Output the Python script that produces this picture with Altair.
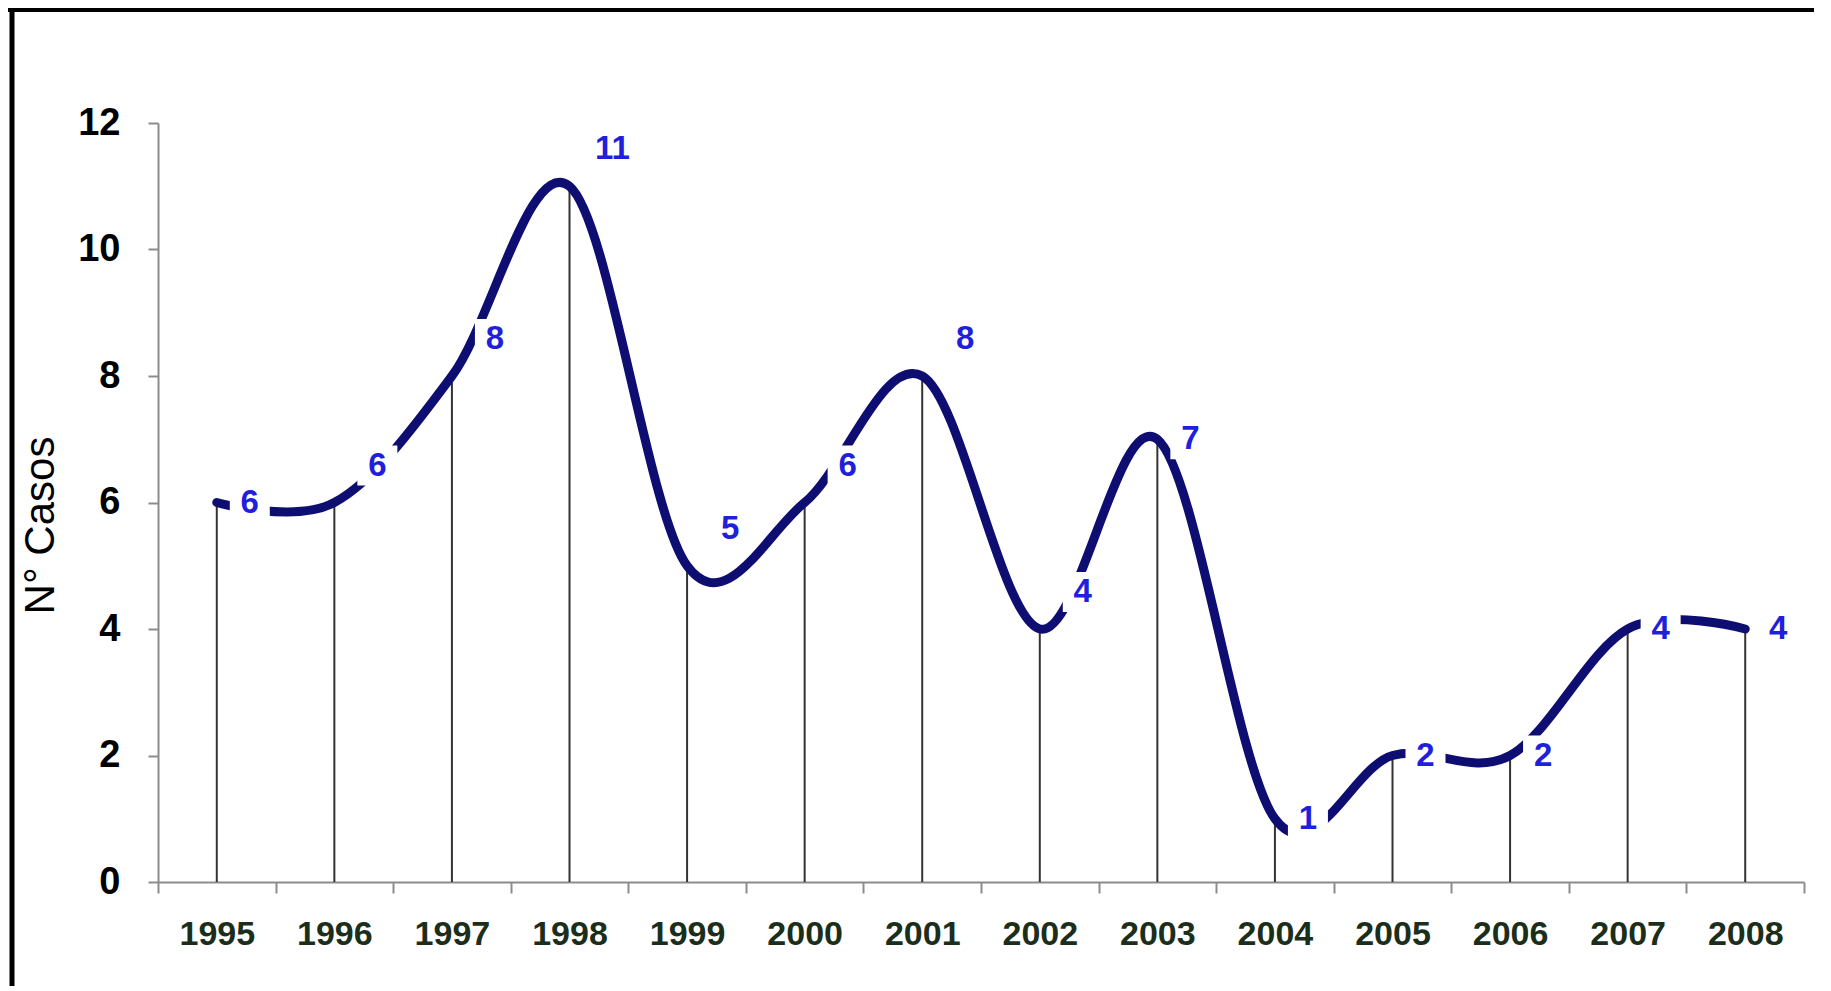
import altair as alt
import pandas as pd

# ---- data ----
years = [1995, 1996, 1997, 1998, 1999, 2000, 2001, 2002, 2003, 2004, 2005, 2006, 2007, 2008]
cases = [6, 6, 8, 11, 5, 6, 8, 4, 7, 1, 2, 2, 4, 4]
y_ticks = [0, 2, 4, 6, 8, 10, 12]
y_title = "N° Casos"

df = pd.DataFrame({"year": years, "cases": cases})
frame_df = pd.DataFrame({"k": [0]})

W, H = 1646, 759
FONT = "Liberation Sans"
AXIS_GRAY = "#8c8c8c"
LINE_COLOR = "#0e0e72"
LABEL_COLOR = "#1f1fdc"

xscale = alt.Scale(type="band", paddingInner=0, paddingOuter=0)
yscale = alt.Scale(domain=[0, 12], nice=False, zero=True)

x_axis = alt.Axis(
    title=None, tickBand="extent", labelAngle=0, labelFont=FONT, labelFontSize=34,
    labelFontWeight="bold", labelColor="#1b2e1b", labelPadding=24,
    tickColor=AXIS_GRAY, tickSize=11, tickWidth=2,
    domainColor=AXIS_GRAY, domainWidth=2, grid=False,
)
y_axis = alt.Axis(
    values=y_ticks, title=y_title, titleFont=FONT, titleFontSize=42,
    titleFontWeight="normal", titleColor="black", titleAngle=270,
    titleX=-105, titleY=402, titleAlign="center", titleBaseline="alphabetic",
    labelFont=FONT, labelFontSize=38, labelFontWeight="bold", labelColor="black",
    labelPadding=28, tickSize=10, tickColor=AXIS_GRAY, tickWidth=2,
    domainColor=AXIS_GRAY, domainWidth=2, grid=False,
)

X = alt.X("year:O", bandPosition=0.5, scale=xscale, axis=x_axis)
Y = alt.Y("cases:Q", scale=yscale, axis=y_axis)

base = alt.Chart(df)

drops = base.mark_rule(color="#333333", strokeWidth=2).encode(x=X, y=Y, y2=alt.datum(0))

curve = base.mark_line(
    color=LINE_COLOR, strokeWidth=9, interpolate="cardinal", strokeCap="round"
).encode(x=X, y=Y)

raised = "datum.year >= 1996 && datum.year <= 2002"
level = "datum.year < 1996 || datum.year > 2002"

bg_raised = base.transform_filter(raised).mark_square(
    size=1600, fill="white", opacity=1, strokeWidth=0, xOffset=43, yOffset=-37
).encode(x=X, y=Y)
bg_level = base.transform_filter(level).mark_square(
    size=1600, fill="white", opacity=1, strokeWidth=0, xOffset=33, yOffset=0
).encode(x=X, y=Y)

txt_raised = base.transform_filter(raised).mark_text(
    font=FONT, fontSize=33, fontWeight="bold", color=LABEL_COLOR,
    align="center", baseline="middle", dx=43, dy=-37,
).encode(x=X, y=Y, text="cases:Q")
txt_level = base.transform_filter(level).mark_text(
    font=FONT, fontSize=33, fontWeight="bold", color=LABEL_COLOR,
    align="center", baseline="middle", dx=33, dy=0,
).encode(x=X, y=Y, text="cases:Q")

frame_left = alt.Chart(frame_df).mark_rule(color="black", strokeWidth=5).encode(
    x=alt.value(-146), y=alt.value(-115), y2=alt.value(H + 104)
)
frame_top = alt.Chart(frame_df).mark_rule(color="black", strokeWidth=4).encode(
    x=alt.value(-150), x2=alt.value(W + 10), y=alt.value(-113)
)

chart = alt.layer(
    drops, curve, bg_raised, bg_level, txt_raised, txt_level, frame_left, frame_top
).properties(
    width=W, height=H,
    autosize=alt.AutoSizeParams(type="none"),
    padding={"left": 150, "top": 115, "right": 10, "bottom": 104},
    background="white",
).configure_view(stroke=None)

chart.save("out.html", embed_options={"renderer": "svg", "actions": False})
